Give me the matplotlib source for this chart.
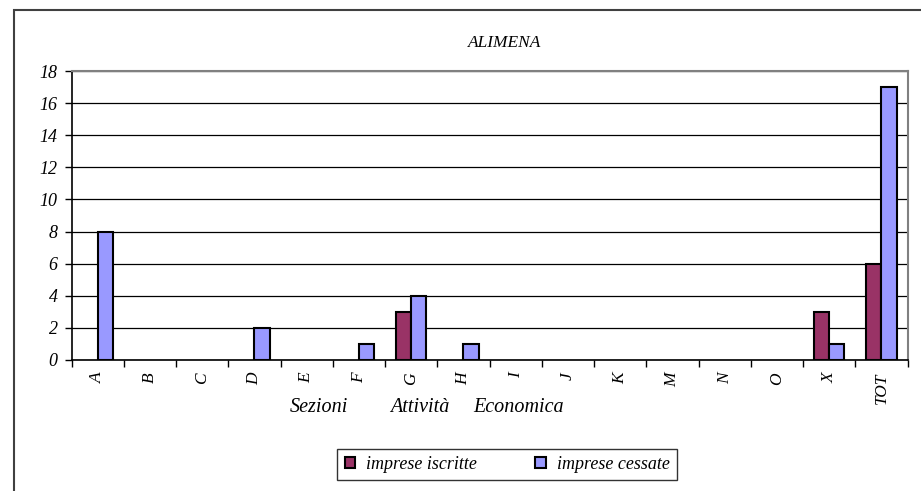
import matplotlib.pyplot as plt
import matplotlib.patches as mpatches
import numpy as np

categories = ["A", "B", "C", "D", "E", "F", "G", "H", "I", "J", "K", "M", "N", "O", "X", "TOT"]
iscritte = [0, 0, 0, 0, 0, 0, 3, 0, 0, 0, 0, 0, 0, 0, 3, 6]
cessate = [8, 0, 0, 2, 0, 1, 4, 1, 0, 0, 0, 0, 0, 0, 1, 17]

W, H = 921, 491
plt.rcParams["font.family"] = ["Liberation Serif", "DejaVu Serif"]
plt.rcParams["font.style"] = "italic"

fig = plt.figure(figsize=(W / 100, H / 100), dpi=100)

# outer chart frame (right/bottom edges fall off the image)
fig.add_artist(mpatches.Rectangle((14 / W, -0.1), 1.2, 1.1 - 10 / H,
                                  transform=fig.transFigure, fill=False,
                                  edgecolor="#404040", linewidth=1.5))

left, right, top, bottom = 71.5, 907.5, 71, 360
ax = fig.add_axes([left / W, 1 - bottom / H, (right - left) / W, (bottom - top) / H])

x = np.arange(len(categories))
bw = 0.29


def draw_bars(offset, values, color):
    vals = np.array(values)
    nz = vals > 0  # Excel draws nothing for zero values
    ax.bar(x[nz] + offset, vals[nz], bw, color=color, edgecolor="black", linewidth=1.5, zorder=3)


draw_bars(-bw / 2, iscritte, "#993366")
draw_bars(bw / 2, cessate, "#9999FF")

ax.set_xlim(-0.5, len(categories) - 0.5)
ax.set_ylim(0, 18)
ax.set_yticks(range(0, 19, 2))
ax.yaxis.grid(True, color="black", linewidth=0.9, zorder=0)

ax.set_xticks(x)
ax.set_xticklabels(categories, rotation=90, fontsize=12.5)
ax.tick_params(axis="x", length=0, pad=9)
ax.set_xticks(np.arange(-0.5, len(categories), 1), minor=True)
ax.tick_params(axis="x", which="minor", length=5, width=1, color="black", direction="out")
ax.tick_params(axis="y", length=5, width=1, labelsize=13, direction="out", pad=5)

for s in ["top", "right"]:
    ax.spines[s].set_color("#808080")
    ax.spines[s].set_linewidth(1.5)
for s in ["left", "bottom"]:
    ax.spines[s].set_color("black")
    ax.spines[s].set_linewidth(1.2)

fig.text(505 / W, 1 - 43 / H, "ALIMENA", ha="center", va="center", fontsize=12.5)
for word, xp in [("Sezioni", 290), ("Attività", 390), ("Economica", 473)]:
    fig.text(xp / W, 1 - 408 / H, word, ha="left", va="center", fontsize=14.5)

handles = [mpatches.Patch(facecolor="#993366", edgecolor="black", linewidth=1.5, label="imprese iscritte"),
           mpatches.Patch(facecolor="#9999FF", edgecolor="black", linewidth=1.5, label="imprese cessate")]
leg = fig.legend(handles=handles, loc="center", bbox_to_anchor=(507 / W, 1 - 464.5 / H),
                 ncol=2, frameon=True, fancybox=False, fontsize=13, handlelength=0.6,
                 handleheight=0.6, columnspacing=3.2, handletextpad=0.6, borderpad=0.4,
                 borderaxespad=0)
leg.get_frame().set_edgecolor("black")
leg.get_frame().set_linewidth(1)

fig.savefig("out.png", dpi=100)
